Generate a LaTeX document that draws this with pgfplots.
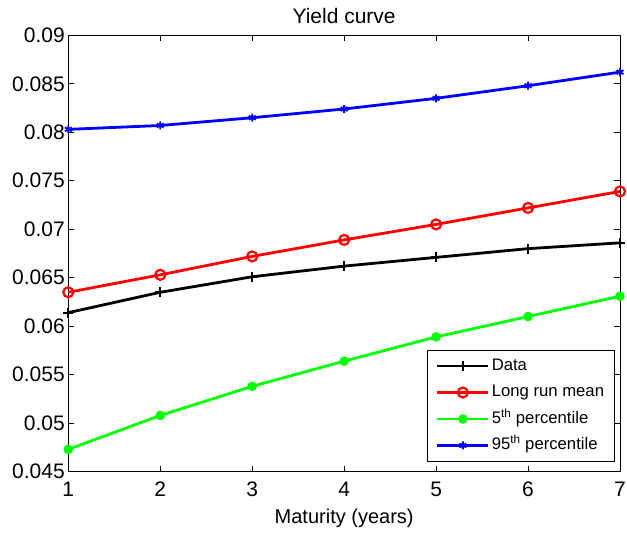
\documentclass[border=0pt]{standalone}
\usepackage{fontspec}
\setmainfont{Liberation Sans}
\usepackage{pgfplots}
\pgfplotsset{compat=1.18}
\newcommand{\bigf}{\fontsize{21}{25}\selectfont}
\newcommand{\labf}{\fontsize{20}{24}\selectfont}
\newcommand{\legf}{\fontsize{16.7}{20}\selectfont}
\begin{document}
\begin{tikzpicture}
\path[use as bounding box] (-68.3pt,-66.3pt) rectangle (558.7pt,471.7pt);
\begin{axis}[
  at={(0pt,0pt)}, anchor=south west,
  scale only axis, width=551.7pt, height=436.4pt,
  xmin=1, xmax=7, ymin=0.045, ymax=0.09,
  xtick={1,2,3,4,5,6,7},
  ytick={0.045,0.05,0.055,0.06,0.065,0.07,0.075,0.08,0.085,0.09},
  yticklabels={0.045,0.05,0.055,0.06,0.065,0.07,0.075,0.08,0.085,0.09},
  scaled y ticks=false,
  tick align=inside,
  major tick length=6pt,
  every tick/.style={black, line width=0.6pt},
  axis line style={line width=0.9pt},
  ticklabel style={font=\bigf},
  /pgf/number format/assume math mode=true,
  xticklabel style={yshift=-7pt},
  title={\bigf Yield curve},
  title style={yshift=2pt},
  xlabel={\labf Maturity (years)},
  xlabel style={yshift=-5pt},
  legend style={at={(615pt-68.3pt,10pt)}, anchor=south east, draw=black, line width=0.8pt,
    font=\legf, row sep=6.5pt, inner xsep=8.5pt, inner ysep=5.8pt, legend cell align=left,
    nodes={text height=12.5pt, text depth=3.5pt, inner sep=2pt}},
  legend image code/.code={\draw[mark repeat=2,mark phase=2] plot coordinates {(0pt,0pt) (25.5pt,0pt) (51pt,0pt)};},
]
\addplot[black, line width=2.8pt, mark=+, mark size=5pt, mark options={line width=2.2pt}] coordinates {
(1,0.0614) (2,0.0635) (3,0.0651) (4,0.0662) (5,0.0671) (6,0.0680) (7,0.0686)};
\addlegendentry{\legf Data}
\addplot[red, line width=2.8pt, mark=o, mark size=5pt, mark options={line width=2.2pt, fill=none}] coordinates {
(1,0.0635) (2,0.0653) (3,0.0672) (4,0.0689) (5,0.0705) (6,0.0722) (7,0.0739)};
\addlegendentry{\legf Long run mean}
\addplot[green, line width=2.8pt, mark=*, mark size=4.5pt, mark options={fill=green, draw=green, line width=0.5pt}] coordinates {
(1,0.0473) (2,0.0508) (3,0.0538) (4,0.0564) (5,0.0589) (6,0.0610) (7,0.0631)};
\addlegendentry{\legf 5\textsuperscript{th} percentile}
\addplot[blue, line width=2.8pt, mark=asterisk, mark size=4pt, mark options={line width=1.8pt}] coordinates {
(1,0.0803) (2,0.0807) (3,0.0815) (4,0.0824) (5,0.0835) (6,0.0848) (7,0.0862)};
\addlegendentry{\legf 95\textsuperscript{th} percentile}
\end{axis}
\end{tikzpicture}
\end{document}
